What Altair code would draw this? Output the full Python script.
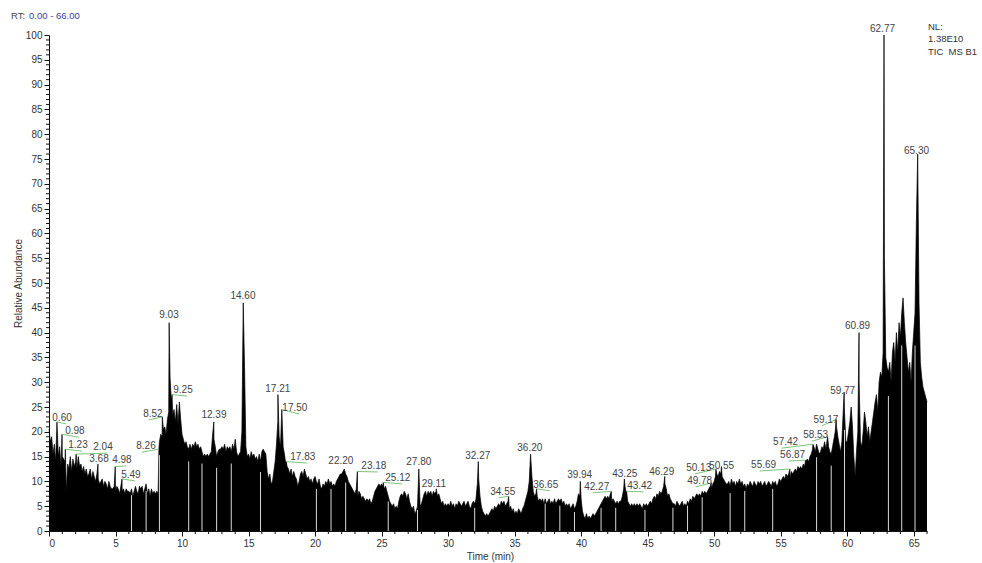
import altair as alt
import pandas as pd

# TIC readings, one row per minute, ten readings 0.1 min apart (relative abundance, %)
tic_rows = [
    [20.5, 18.0, 19.0, 15.5, 17.5, 14.0, 17.0, 15.0, 17.0, 13.0],   # 0
    [15.0, 14.5, 14.0, 8.0, 13.5, 12.5, 15.0, 12.0, 14.5, 13.0],    # 1
    [14.0, 12.5, 15.0, 13.0, 13.5, 12.0, 13.0, 11.5, 12.5, 11.0],   # 2
    [11.5, 12.5, 10.5, 12.0, 11.0, 10.0, 11.5, 10.5, 9.5, 10.0],    # 3
    [10.5, 9.0, 10.0, 9.5, 8.5, 10.0, 9.0, 8.5, 8.5, 9.0],          # 4
    [8.0, 9.0, 8.5, 7.5, 9.0, 8.0, 8.5, 7.5, 8.5, 8.0],             # 5
    [8.0, 7.5, 8.5, 7.0, 8.0, 9.0, 8.0, 7.5, 9.0, 8.5],             # 6
    [9.0, 7.5, 8.5, 9.5, 7.5, 8.5, 7.0, 8.5, 7.5, 8.0],             # 7
    [7.5, 8.0, 7.5, 18.0, 19.5, 19.0, 20.5, 21.0, 19.5, 22.5],      # 8
    [24.0, 31.0, 26.0, 23.5, 24.5, 22.0, 25.5, 21.5, 26.0, 22.5],   # 9
    [19.5, 18.5, 17.5, 18.0, 17.0, 16.5, 17.5, 16.5, 17.5, 17.0],   # 10
    [18.0, 17.0, 17.5, 16.5, 17.0, 16.0, 15.0, 15.5, 15.0, 15.5],   # 11
    [15.0, 15.5, 16.0, 19.5, 18.5, 17.0, 15.0, 16.0, 16.5, 16.5],   # 12
    [17.0, 16.5, 17.5, 16.0, 17.0, 16.5, 17.0, 16.0, 17.5, 16.5],   # 13
    [18.5, 16.0, 15.0, 15.5, 16.0, 20.0, 40.0, 33.0, 17.0, 15.0],   # 14
    [15.5, 14.5, 16.0, 15.0, 15.5, 14.5, 15.0, 14.0, 15.5, 14.0],   # 15
    [16.0, 16.5, 16.0, 15.5, 12.0, 10.5, 11.5, 9.5, 10.0, 12.0],    # 16
    [14.0, 17.5, 22.0, 19.0, 17.0, 21.0, 17.0, 15.5, 13.5, 13.0],   # 17
    [12.5, 11.5, 12.5, 11.0, 12.0, 11.0, 10.5, 9.0, 10.0, 11.5],    # 18
    [12.0, 11.0, 12.5, 11.5, 10.5, 11.0, 10.0, 10.5, 9.5, 10.5],    # 19
    [11.0, 10.0, 9.5, 10.5, 9.0, 8.5, 9.5, 9.0, 10.0, 9.5],         # 20
    [10.5, 9.5, 10.0, 9.0, 9.5, 9.0, 10.0, 10.5, 11.0, 11.5],       # 21
    [11.5, 12.0, 11.5, 11.5, 11.0, 10.0, 9.5, 9.0, 8.5, 8.0],       # 22
    [7.5, 8.5, 7.0, 8.0, 7.5, 6.5, 7.0, 6.5, 6.0, 6.5],             # 23
    [6.0, 6.5, 5.5, 6.0, 7.0, 8.0, 8.5, 9.0, 9.5, 9.0],             # 24
    [9.5, 9.0, 8.5, 9.0, 8.0, 7.0, 6.0, 5.5, 5.0, 5.5],             # 25
    [4.5, 5.0, 4.5, 6.0, 7.0, 7.5, 7.0, 8.0, 7.5, 6.5],             # 26
    [7.5, 6.0, 5.0, 4.5, 5.0, 3.5, 4.0, 5.0, 9.0, 5.0],             # 27
    [5.5, 6.5, 7.5, 8.0, 7.0, 8.0, 7.5, 8.0, 7.0, 8.0],             # 28
    [7.5, 8.0, 7.0, 7.5, 6.5, 5.5, 6.0, 5.0, 5.5, 5.0],             # 29
    [5.5, 5.0, 6.0, 5.0, 5.5, 4.5, 5.5, 5.0, 6.0, 5.5],             # 30
    [5.0, 5.5, 6.0, 5.0, 5.5, 6.0, 5.0, 4.5, 5.5, 6.0],             # 31
    [5.5, 6.5, 9.5, 10.5, 7.0, 5.0, 4.0, 3.5, 3.0, 3.5],            # 32
    [3.0, 3.5, 4.0, 4.5, 4.0, 5.0, 4.5, 5.0, 5.5, 5.0],             # 33
    [6.0, 5.5, 6.0, 5.0, 5.5, 6.0, 4.5, 5.0, 4.0, 4.5],             # 34
    [3.5, 4.0, 3.5, 4.5, 4.0, 3.5, 4.5, 5.0, 6.0, 7.0],             # 35
    [8.0, 10.0, 12.5, 11.0, 8.0, 7.0, 7.5, 7.0, 6.0, 6.5],          # 36
    [6.0, 6.5, 5.5, 6.5, 5.5, 6.0, 6.5, 5.5, 6.0, 5.5],             # 37
    [6.5, 5.5, 6.0, 6.5, 6.0, 6.5, 5.5, 6.0, 5.0, 5.5],             # 38
    [5.0, 5.5, 4.5, 5.0, 5.5, 4.5, 5.0, 6.0, 7.5, 7.0],             # 39
    [6.5, 4.0, 3.0, 2.5, 3.5, 2.5, 3.0, 2.5, 3.0, 3.5],             # 40
    [3.0, 3.5, 4.0, 4.5, 5.0, 5.5, 6.0, 6.5, 7.0, 6.5],             # 41
    [7.0, 6.5, 7.5, 6.0, 6.5, 6.0, 5.5, 6.0, 5.5, 6.0],             # 42
    [6.0, 7.0, 8.5, 9.0, 7.5, 6.0, 5.5, 5.0, 5.5, 5.0],             # 43
    [5.5, 5.0, 5.5, 5.0, 5.5, 5.0, 4.5, 5.5, 5.0, 5.5],             # 44
    [5.0, 5.5, 6.0, 5.5, 6.5, 7.0, 6.5, 7.5, 7.0, 8.0],             # 45
    [7.5, 8.0, 9.0, 9.5, 8.5, 7.0, 7.5, 6.5, 6.0, 5.5],             # 46
    [5.5, 5.0, 6.0, 5.5, 5.0, 5.5, 6.0, 5.0, 5.5, 5.0],             # 47
    [6.0, 5.5, 6.5, 6.0, 7.0, 6.5, 7.0, 7.5, 7.0, 7.5],             # 48
    [7.0, 8.0, 7.5, 8.0, 7.5, 8.0, 8.5, 9.0, 8.5, 9.5],             # 49
    [10.0, 11.0, 11.5, 11.0, 12.0, 11.5, 11.0, 10.5, 10.0, 9.5],    # 50
    [9.5, 10.0, 9.0, 10.5, 9.5, 10.0, 9.0, 10.0, 9.5, 10.5],        # 51
    [9.5, 10.0, 9.0, 9.5, 8.5, 9.5, 9.0, 10.0, 9.5, 9.0],           # 52
    [10.0, 9.5, 9.0, 10.0, 9.5, 10.0, 9.0, 9.5, 10.0, 9.0],         # 53
    [9.5, 10.0, 9.5, 9.0, 10.0, 9.5, 10.0, 9.0, 9.5, 10.5],         # 54
    [10.0, 10.5, 11.0, 10.5, 11.5, 11.0, 11.5, 10.5, 12.0, 11.5],   # 55
    [12.0, 12.5, 12.0, 13.0, 12.5, 13.0, 12.5, 13.5, 13.0, 14.0],   # 56
    [14.5, 14.0, 15.0, 15.5, 16.5, 17.0, 16.0, 17.5, 16.5, 15.5],   # 57
    [16.0, 17.0, 16.5, 18.0, 16.5, 18.5, 17.0, 16.0, 15.5, 17.0],   # 58
    [18.5, 20.0, 21.0, 19.0, 17.5, 16.0, 18.0, 24.0, 24.0, 18.0],   # 59
    [18.0, 20.0, 22.0, 25.0, 21.0, 15.0, 11.0, 16.0, 20.0, 30.0],   # 60
    [18.0, 17.0, 20.0, 24.0, 22.0, 19.0, 21.0, 18.0, 20.0, 22.0],   # 61
    [24.0, 26.0, 27.5, 24.0, 30.0, 32.0, 31.0, 36.0, 55.0, 35.0],   # 62
    [33.0, 32.0, 34.0, 30.0, 36.0, 38.0, 34.0, 40.0, 36.0, 42.0],   # 63
    [39.0, 44.0, 47.0, 42.0, 38.0, 35.0, 32.0, 34.0, 30.0, 36.0],   # 64
    [40.0, 44.0, 62.0, 76.0, 46.0, 34.0, 31.0, 29.0, 28.0, 27.0],   # 65
]
tic_end = 26.0  # reading at 66.0 min

# labelled peaks: retention time, apex height, label anchor (time, abundance)
peak_rt = [0.60, 0.98, 1.23, 2.04, 3.68, 4.98, 5.49, 8.26, 8.52, 9.03, 9.25,
           12.39, 14.60, 17.21, 17.50, 17.83, 22.20, 23.18, 25.12, 27.80, 29.11,
           32.27, 34.55, 36.20, 36.65, 39.94, 42.27, 43.25, 43.42, 46.29, 49.78,
           50.13, 50.55, 55.69, 56.87, 57.42, 58.53, 59.17, 59.77, 60.89, 62.77, 65.30]
peak_height = [22.0, 19.5, 16.5, 15.5, 13.5, 13.0, 10.5, 16.5, 23.0, 42.0, 27.5,
               22.0, 46.0, 27.5, 24.5, 14.0, 12.5, 12.0, 9.8, 12.5, 8.5,
               14.0, 7.0, 15.5, 8.5, 10.0, 8.0, 10.5, 8.0, 11.0, 9.7,
               12.5, 13.0, 12.5, 14.3, 17.5, 19.0, 22.5, 28.0, 40.0, 100.0, 76.0]
label_rt = [0.98, 1.95, 2.18, 4.06, 3.76, 5.48, 6.16, 7.29, 7.81, 9.02, 10.07,
            12.40, 14.58, 17.20, 18.48, 19.08, 21.94, 24.42, 26.22, 27.80, 28.93,
            32.23, 34.11, 36.14, 37.34, 39.89, 41.17, 43.28, 44.40, 46.06, 48.91,
            48.84, 50.56, 53.72, 55.90, 55.37, 57.63, 58.40, 59.66, 60.78, 62.66, 65.21]
label_abund = [22.8, 20.1, 17.3, 16.9, 14.5, 14.3, 11.3, 17.1, 23.6, 43.5, 28.4,
               23.4, 47.3, 28.6, 24.8, 14.9, 14.1, 13.1, 10.7, 13.9, 9.5,
               15.1, 7.9, 16.7, 9.3, 11.3, 8.9, 11.5, 9.1, 11.9, 10.1,
               12.7, 13.1, 13.3, 15.3, 17.9, 19.3, 22.4, 28.2, 41.3, 101.3, 76.7]

# segment boundaries that show as white columns in the trace
gap_rt = [6.2, 7.3, 8.3, 10.5, 11.5, 12.6, 13.7, 15.9, 20.1, 21.2, 22.3, 25.5,
          27.7, 32.0, 37.3, 38.4, 39.5, 41.5, 42.6, 44.8, 46.9, 48.0, 49.1,
          51.2, 52.3, 54.4, 57.7, 58.8, 59.8, 63.1, 64.1, 65.1]

x_ticks = [0, 5, 10, 15, 20, 25, 30, 35, 40, 45, 50, 55, 60, 65]
y_ticks = list(range(0, 101, 5))

# header text
rt_head_text = "RT:"
rt_range_text = "0.00 - 66.00"
nl_text = ["NL:", "1.38E10", "TIC\u00a0\u00a0MS B1"]

W, H = 878, 496

# ---- assemble the trace ----
trace = {}
for m, row in enumerate(tic_rows):
    for k, v in enumerate(row):
        trace[round(m + k / 10, 2)] = v
trace[66.0] = tic_end
for t, h in zip(peak_rt, peak_height):
    trace[round(t, 2)] = h
tic = pd.DataFrame(sorted(trace.items()), columns=["rt", "abund"])

peaks = pd.DataFrame({"rt": peak_rt, "h": peak_height, "lx": label_rt, "ly": label_abund,
                      "txt": [f"{t:.2f}" for t in peak_rt]})

lead = peaks[(peaks["lx"] - peaks["rt"]).abs() > 0.35].copy()
lead["x2"] = lead["lx"] + 0.3 * (lead["lx"] - lead["rt"]).apply(lambda d: 1 if d > 0 else -1)
lead["y2"] = lead["ly"] - 1.2

gaps = pd.DataFrame({"rt": gap_rt, "top": [trace[round(g, 2)] * 0.85 for g in gap_rt]})

minor_x = pd.DataFrame({"v": [i for i in range(0, 67) if i % 5]})
minor_y = pd.DataFrame({"v": [i for i in range(0, 101) if i % 5]})

xs = alt.Scale(domain=[0, 66], nice=False, zero=False)
ys = alt.Scale(domain=[0, 100], nice=False)

axis_common = dict(grid=False, domainColor="#111", tickColor="#111", labelColor="#333",
                   labelFontSize=10, titleFontSize=10, titleFontWeight="normal",
                   titleColor="#333", tickSize=5, domainWidth=1, tickWidth=1,
                   labelOverlap=False, labelPadding=2, titleBaseline="middle")

# the same axis definitions go on every layer so the merged axes keep them
x_axis = alt.Axis(values=x_ticks, title="Time (min)", titleX=441, titleY=25, **axis_common)
y_axis = alt.Axis(values=y_ticks, title="Relative Abundance", titleX=-31, titleY=248,
                  titleAngle=270, **axis_common)


def X(field):
    return alt.X(field, scale=xs, axis=x_axis, title="Time (min)")


def Y(field):
    return alt.Y(field, scale=ys, axis=y_axis, title="Relative Abundance")


area = alt.Chart(tic).mark_area(color="black", interpolate="linear").encode(
    x=X("rt:Q"), y=Y("abund:Q"))
line = alt.Chart(tic).mark_line(color="black", strokeWidth=0.7).encode(
    x=X("rt:Q"), y=Y("abund:Q"))

gap_rules = alt.Chart(gaps).mark_rule(color="white", strokeWidth=1, opacity=0.85).encode(
    x=X("rt:Q"), y=Y("top:Q"), y2=alt.datum(0))

leaders = alt.Chart(lead).mark_rule(color="#7cc47c", strokeWidth=1).encode(
    x=X("rt:Q"), y=Y("h:Q"), x2="x2:Q", y2="y2:Q")

labels = alt.Chart(peaks).mark_text(fontSize=10, color="#444", align="center",
                                    baseline="middle").encode(
    x=X("lx:Q"), y=Y("ly:Q"), text="txt:N")

xminor = alt.Chart(minor_x).mark_rule(color="#111", strokeWidth=1).encode(
    x=X("v:Q"), y=alt.value(H), y2=alt.value(H + 3))
yminor = alt.Chart(minor_y).mark_rule(color="#111", strokeWidth=1).encode(
    y=Y("v:Q"), x=alt.value(-3), x2=alt.value(0))

rt_head = alt.Chart(pd.DataFrame({"t": [rt_head_text]})).mark_text(
    fontSize=9.5, color="#444", align="left", baseline="middle").encode(
    x=alt.value(-38), y=alt.value(-19), text="t:N")
rt_range = alt.Chart(pd.DataFrame({"t": [rt_range_text]})).mark_text(
    fontSize=9.5, color="#3c3c9c", align="left", baseline="middle").encode(
    x=alt.value(-20), y=alt.value(-19), text="t:N")

# NL block: three stacked lines at the top right
nl_lines = []
for txt, yy in zip(nl_text, [-8, 4, 17]):
    nl_lines.append(alt.Chart(pd.DataFrame({"t": [txt]})).mark_text(
        fontSize=9.5, color="#333", align="left", baseline="middle").encode(
        x=alt.value(W + 1), y=alt.value(yy), text="t:N"))

chart = alt.layer(area, line, gap_rules, leaders, labels, xminor, yminor,
                  rt_head, rt_range, *nl_lines).properties(
    width=W, height=H,
    autosize=alt.AutoSizeParams(type="none"),
    padding={"left": 49, "top": 35, "right": 55, "bottom": 32},
).configure(font="Liberation Sans").configure_view(stroke=None)

chart.save("out.html", embed_options={"renderer": "svg", "actions": False})
